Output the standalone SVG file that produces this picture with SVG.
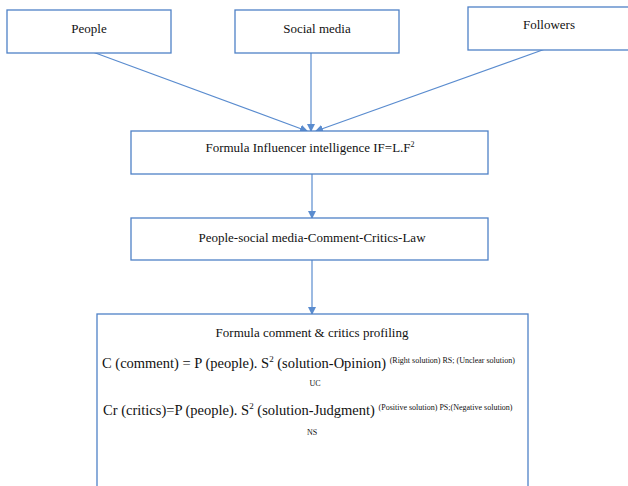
<svg xmlns="http://www.w3.org/2000/svg" width="628" height="486" viewBox="0 0 628 486">
<style>
.box{fill:#fff;stroke:#4f81c7;stroke-width:1.3}
text{font-family:'Liberation Serif','DejaVu Serif',serif;fill:#111}
.t{font-size:13px;text-anchor:middle}
.f{font-size:14.5px}
.s{font-size:8px}
.c{stroke:#5a8ccf;stroke-width:1.2;fill:none;marker-end:url(#ah)}
</style>
<defs>
<marker id="ah" markerWidth="8" markerHeight="8" refX="7" refY="4" orient="auto" markerUnits="userSpaceOnUse">
<path d="M0,0 L8,4 L0,8 Z" fill="#5a8ccf"/>
</marker>
</defs>
<rect width="628" height="486" fill="#fff"/>
<g id="connectors">
<line class="c" x1="90" y1="51" x2="307" y2="131"/>
<line class="c" x1="311" y1="51" x2="311" y2="131"/>
<line class="c" x1="548" y1="48" x2="316" y2="131"/>
<line class="c" x1="312" y1="174" x2="312" y2="218"/>
<line class="c" x1="312" y1="260" x2="312" y2="314"/>
</g>
<g id="people">
<rect class="box" x="7" y="10" width="164" height="43"/>
<text class="t" x="89" y="33">People</text>
</g>
<g id="social-media">
<rect class="box" x="235" y="10" width="164" height="43"/>
<text class="t" x="317" y="33">Social media</text>
</g>
<g id="followers">
<rect class="box" x="468" y="7" width="162" height="43"/>
<text class="t" x="549" y="29">Followers</text>
</g>
<g id="formula-if">
<rect class="box" x="131" y="131" width="357" height="43"/>
<text class="t" x="310" y="152">Formula Influencer intelligence IF=L.F<tspan dy="-5" font-size="8">2</tspan></text>
</g>
<g id="law">
<rect class="box" x="131" y="218" width="357" height="42"/>
<text class="t" x="312" y="242">People-social media-Comment-Critics-Law</text>
</g>
<g id="profiling">
<rect class="box" x="97" y="314" width="431" height="180"/>
<text class="t" x="312" y="337" font-size="14">Formula comment &amp; critics profiling</text>
<text class="f" x="102" y="368">C (comment) = P (people). S<tspan dy="-6" font-size="9">2</tspan><tspan dy="6"> (solution-Opinion) </tspan><tspan class="s" dy="-5">(Right solution) RS; (Unclear solution)</tspan></text>
<text class="f s" x="315" y="386" text-anchor="middle">UC</text>
<text class="f" x="103" y="415">Cr (critics)=P (people). S<tspan dy="-6" font-size="9">2</tspan><tspan dy="6"> (solution-Judgment) </tspan><tspan class="s" dy="-5">(Positive solution) PS;(Negative solution)</tspan></text>
<text class="f s" x="312" y="435" text-anchor="middle">NS</text>
</g>
</svg>
